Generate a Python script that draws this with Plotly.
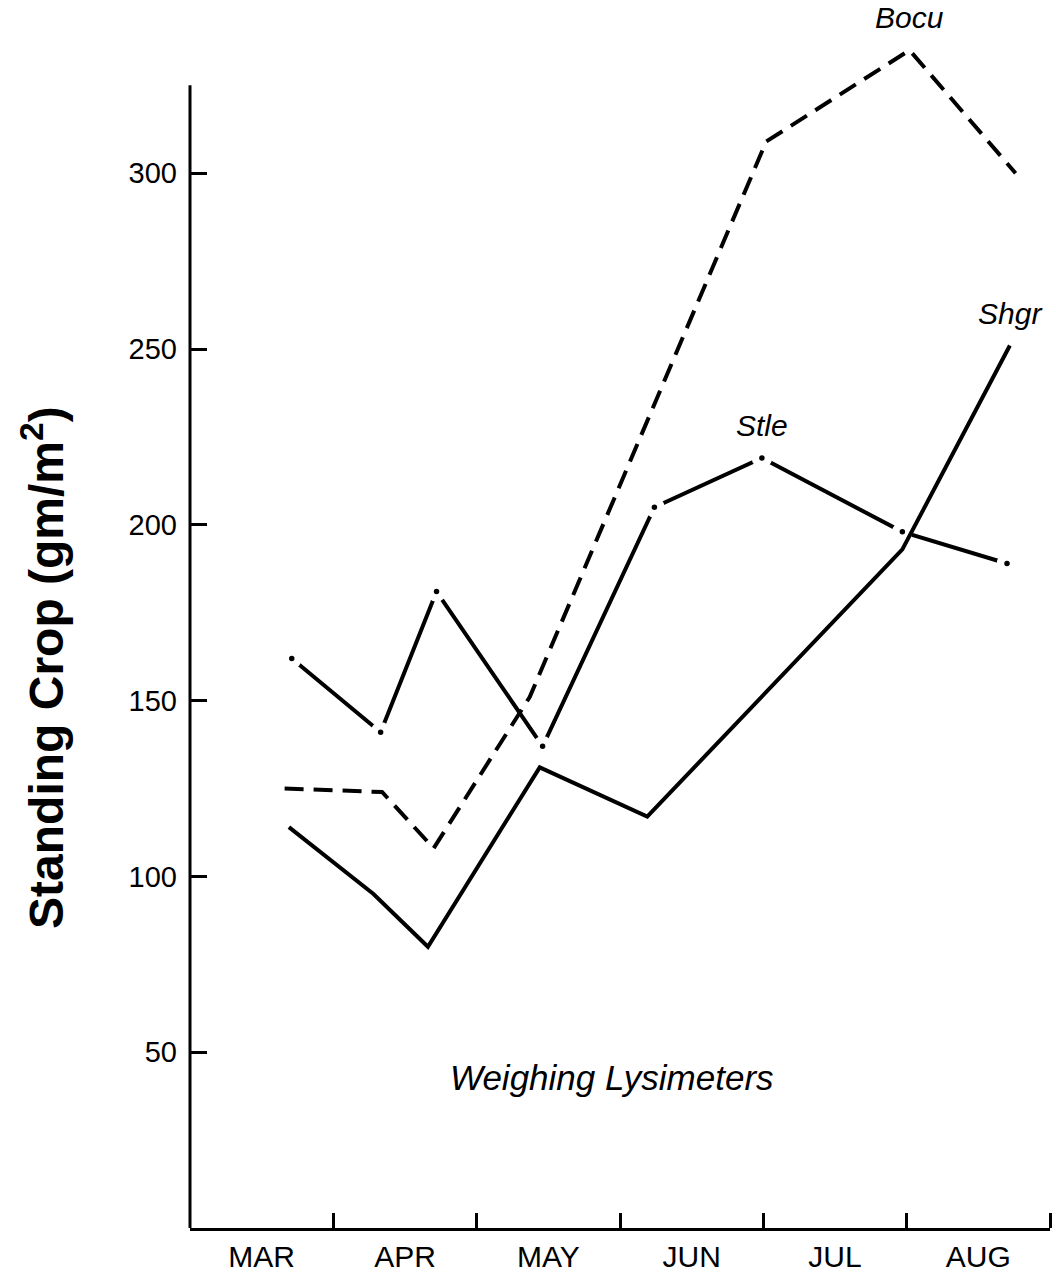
import plotly.graph_objects as go

# ---- data (x in months since 1 March) ----
months = ["MAR", "APR", "MAY", "JUN", "JUL", "AUG"]

bocu_x = [0.66, 1.34, 1.70, 2.37, 4.02, 5.02, 5.76]
bocu_y = [125, 124, 108, 151, 309, 335, 300]

stle_x = [0.71, 1.33, 1.72, 2.46, 3.24, 3.99, 4.97, 5.70]
stle_y = [162, 141, 181, 137, 205, 219, 198, 189]

shgr_x = [0.69, 1.28, 1.66, 2.44, 3.19, 4.97, 5.72]
shgr_y = [114, 95, 80, 131, 117, 193, 251]

ytick_vals = [50, 100, 150, 200, 250, 300]
y_axis_top = 325
y_range = [0, 345]

FONT = "Liberation Sans, Arial, sans-serif"
LW = 4

fig = go.Figure()

# Stle: dash-dot look -> solid line broken around vertex dots
fig.add_trace(go.Scatter(
    x=stle_x, y=stle_y, mode="lines+markers",
    line=dict(color="black", width=LW),
    marker=dict(symbol="circle", size=13, color="black",
                line=dict(color="white", width=7.5)),
    hoverinfo="skip", name="Stle"))

# Shgr: solid
fig.add_trace(go.Scatter(
    x=shgr_x, y=shgr_y, mode="lines",
    line=dict(color="black", width=LW),
    hoverinfo="skip", name="Shgr"))

# Bocu: dashed
fig.add_trace(go.Scatter(
    x=bocu_x, y=bocu_y, mode="lines",
    line=dict(color="black", width=LW, dash="19px,10px"),
    hoverinfo="skip", name="Bocu"))

# series labels anchored to data points
def label(text, xs, ys, idx):
    fig.add_annotation(x=xs[idx], y=ys[idx], text=f"<i>{text}</i>",
                       showarrow=False, xanchor="center", yanchor="bottom",
                       yshift=14, font=dict(family=FONT, size=30, color="black"))

label("Bocu", bocu_x, bocu_y, bocu_y.index(max(bocu_y)))
label("Stle", stle_x, stle_y, stle_y.index(max(stle_y)))
label("Shgr", shgr_x, shgr_y, len(shgr_y) - 1)

fig.add_annotation(x=0.491, y=0.1237, xref="paper", yref="paper",
                   text="<i>Weighing Lysimeters</i>", showarrow=False,
                   xanchor="center", yanchor="middle",
                   font=dict(family=FONT, size=35, color="black"))

# y-axis title
fig.add_annotation(x=-0.1710, y=0.4625, xref="paper", yref="paper",
                   text="<b>Standing Crop (gm/m<sup>2</sup>)</b>", textangle=-90,
                   showarrow=False, xanchor="center", yanchor="middle",
                   font=dict(family=FONT, size=48, color="black"))

# y-axis line (stops below the top of the plot area)
fig.add_shape(type="line", xref="paper", yref="y domain", x0=0, x1=0,
              y0=0, y1=y_axis_top / y_range[1],
              line=dict(color="black", width=3), layer="above")

fig.update_layout(
    width=1056, height=1281, autosize=False,
    margin=dict(l=190, r=6, t=15, b=53),
    paper_bgcolor="white", plot_bgcolor="white",
    showlegend=False,
    font=dict(family=FONT, color="black"),
    xaxis=dict(
        range=[0, len(months)],
        tickmode="array",
        tickvals=[i + 0.5 for i in range(len(months))],
        ticktext=months,
        ticks="", ticklabelstandoff=0,
        tickfont=dict(family=FONT, size=30, color="black"),
        showgrid=False, zeroline=False,
        showline=True, linecolor="black", linewidth=3,
        minor=dict(tickmode="array",
                   tickvals=list(range(1, len(months) + 1)),
                   ticks="inside", ticklen=15, tickwidth=3,
                   tickcolor="black", showgrid=False),
        fixedrange=True,
    ),
    yaxis=dict(
        range=y_range,
        tickmode="array", tickvals=ytick_vals,
        ticks="inside", ticklen=17, tickwidth=2.5, tickcolor="black",
        ticklabelstandoff=12,
        tickfont=dict(family=FONT, size=29, color="black"),
        showgrid=False, zeroline=False, showline=False,
        fixedrange=True,
    ),
)

fig.write_html("out.html", config={"displayModeBar": False},
               post_script="document.body.style.margin='0';")
